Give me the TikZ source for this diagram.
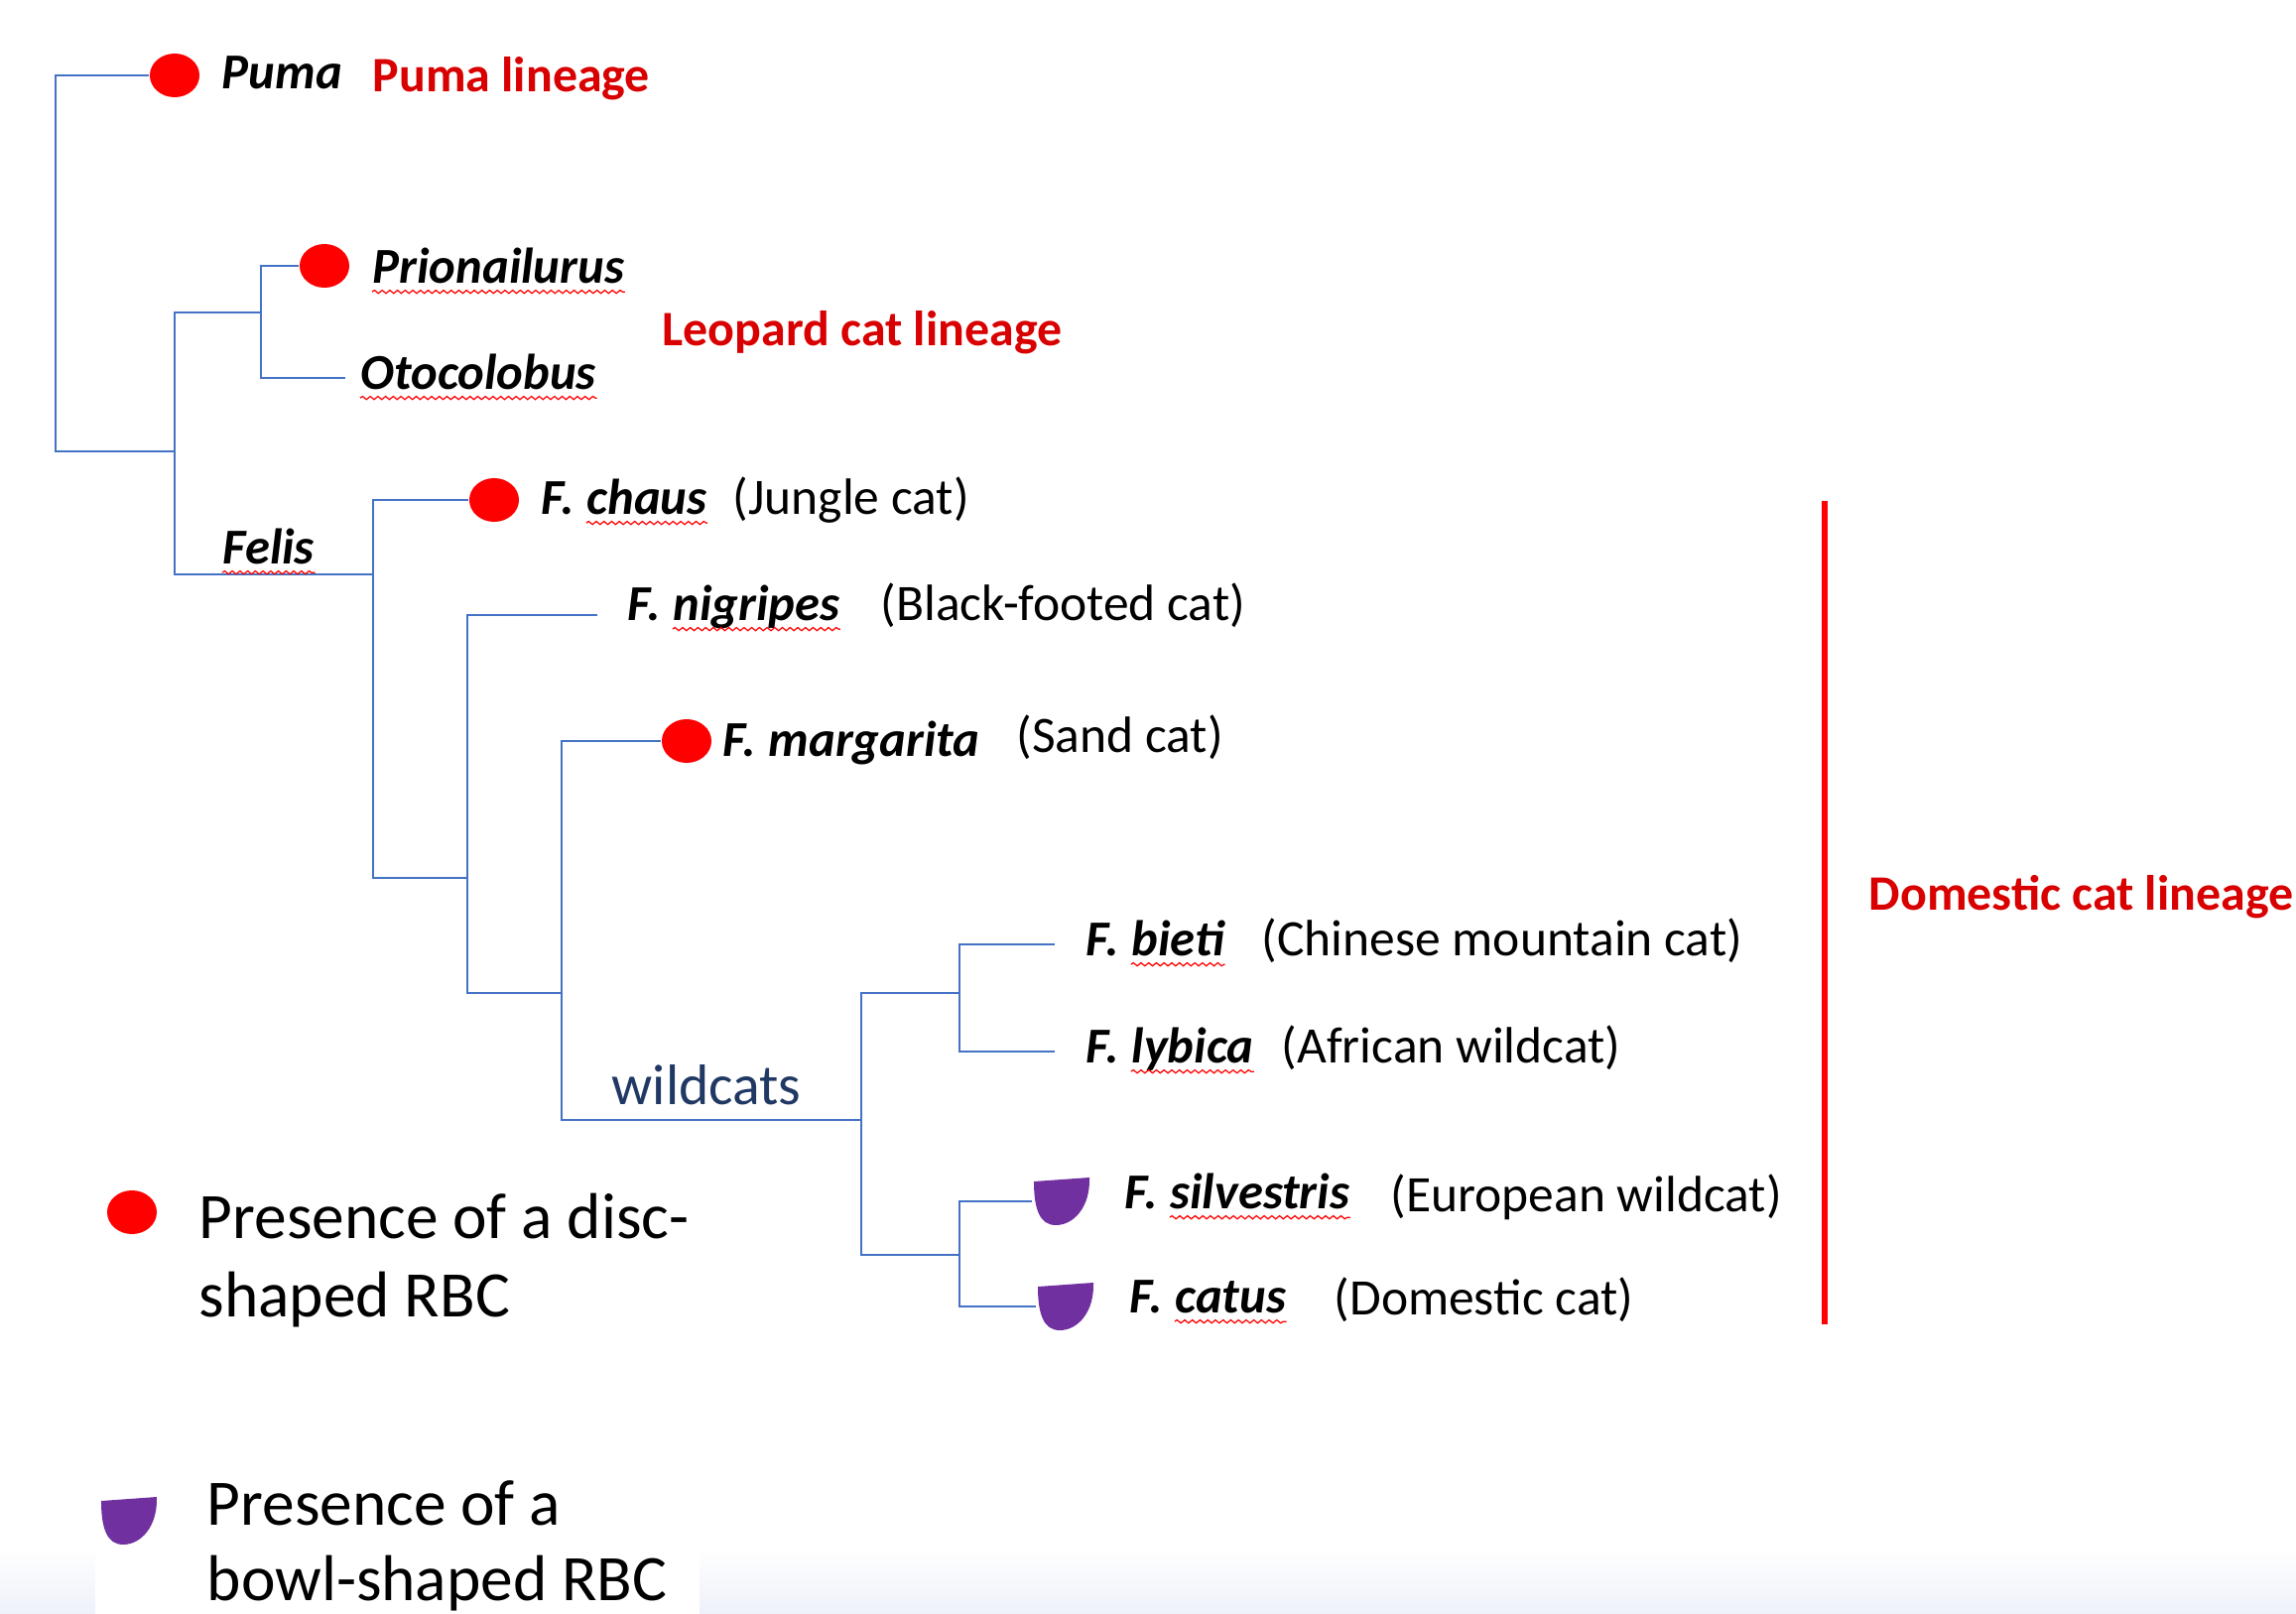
\documentclass[tikz,border=0pt]{standalone}
\usepackage{fontspec}
\setmainfont{Carlito}
\usetikzlibrary{positioning,shapes.geometric,decorations.pathmorphing,shadings}
\definecolor{treeblue}{HTML}{4472C4}
\definecolor{discred}{HTML}{FF0000}
\definecolor{lineagered}{HTML}{D80000}
\definecolor{bowlpurple}{HTML}{7030A0}
\definecolor{wildblue}{HTML}{203864}
\definecolor{stripblue}{HTML}{EEF1FA}
\newcommand\labfont{\fontsize{14.4}{17}\selectfont}
\newcommand\comfont{\fontsize{14.65}{17}\selectfont}
\newcommand\keyfont{\fontsize{18.6}{22}\selectfont}
\tikzset{
  sp/.style={font=\labfont\bfseries\itshape, inner sep=0, anchor=base west},
  cn/.style={font=\comfont, inner sep=0, anchor=base west},
  lin/.style={font=\fontsize{14.2}{17}\selectfont\bfseries, text=lineagered, inner sep=0, anchor=base west},
  keytext/.style={font=\keyfont, inner sep=0, anchor=base west},
  disc/.style={ellipse, fill=discred, minimum width=0.50cm, minimum height=0.44cm, inner sep=0},
  bowl/.style={inner sep=0, minimum width=0.58cm, minimum height=0.52cm,
    path picture={\fill[bowlpurple, shift={(path picture bounding box.center)}]
      (-28,-20) -- (28,-24) .. controls (29,6) and (12,24) .. (-6,24)
      .. controls (-22,24) and (-28,8) .. cycle;}},
  branch/.style={draw=treeblue, line width=0.7pt},
  squig/.style={draw=red, line width=0.35pt, decorate,
    decoration={snake, amplitude=0.45pt, segment length=2.2pt}},
  domline/.style={draw=discred, line width=1.7pt}
}
\begin{document}
\begin{tikzpicture}[x=0.01cm, y=-0.01cm]
  \useasboundingbox (0,0) rectangle (2314,1627);
  \clip (0,0) rectangle (2314,1627);
  \shade[top color=white, bottom color=stripblue] (0,1560) rectangle (2314,1627);
  \fill[white] (96,1545) rectangle (705,1627);

  % junctions of the tree
  \coordinate (root) at (56,260);
  \coordinate (felid) at (176,455);
  \coordinate (leo) at (263,315);
  \coordinate (jfelis) at (376,579);
  \coordinate (j2) at (471,885);
  \coordinate (j3) at (566,1001);
  \coordinate (jwild) at (868,1129);
  \coordinate (jwa) at (967,1001);
  \coordinate (jwb) at (967,1265);
  \coordinate (endoto) at (348,381);
  \coordinate (endnigri) at (602,620);
  \coordinate (endbieti) at (1063,952);
  \coordinate (endlybica) at (1063,1060);

  % RBC markers
  \node[disc] (pumadisc) at (176,76) {};
  \node[disc] (priodisc) at (327,268) {};
  \node[disc] (chausdisc) at (498,504) {};
  \node[disc] (margdisc) at (692,747) {};
  \node[bowl] (silvbowl) at (1070,1211) {};
  \node[bowl] (catusbowl) at (1074,1317) {};

  \begin{scope}[branch]
    \draw (root) |- (pumadisc.west);
    \draw (root) |- (felid);
    \draw (felid) |- (leo);
    \draw (felid) |- (jfelis);
    \draw (leo) |- (priodisc.west);
    \draw (leo) |- (endoto);
    \draw (jfelis) |- (chausdisc.west);
    \draw (jfelis) |- (j2);
    \draw (j2) |- (endnigri);
    \draw (j2) |- (j3);
    \draw (j3) |- (margdisc.west);
    \draw (j3) |- (jwild);
    \draw (jwild) |- (jwa);
    \draw (jwild) |- (jwb);
    \draw (jwa) |- (endbieti);
    \draw (jwa) |- (endlybica);
    \draw (jwb) |- (silvbowl.west);
    \draw (jwb) |- (catusbowl.west);
  \end{scope}

  % names
  \node[sp] (puma) at (223,90) {Puma};
  \node[lin] (pumalin) at (375,92) {Puma lineage};
  \node[sp] (prio) at (375,285) {Prionailurus};
  \node[lin] (leolin) at (667,348) {Leopard cat lineage};
  \node[sp] (oto) at (363,392) {Otocolobus};
  \node[sp] (felis) at (224,568) {Felis};
  \node[sp] (chausF) at (545,518) {F.};
  \node[sp, base right=3.2pt of chausF] (chaus) {chaus};
  \node[cn] (chausC) at (738,518) {(Jungle cat)};
  \node[sp] (nigriF) at (632,625) {F.};
  \node[sp, base right=3.2pt of nigriF] (nigri) {nigripes};
  \node[cn] (nigriC) at (887,625) {(Black-footed cat)};
  \node[sp] (margF) at (728,762) {F.};
  \node[sp, base right=3.2pt of margF] (marg) {margarita};
  \node[cn] (margC) at (1024,758) {(Sand cat)};
  \node[sp] (bietiF) at (1094,963) {F.};
  \node[sp, base right=3.2pt of bietiF] (bieti) {bieti};
  \node[cn] (bietiC) at (1271,963) {(Chinese mountain cat)};
  \node[sp] (lybicaF) at (1094,1071) {F.};
  \node[sp, base right=3.2pt of lybicaF] (lybica) {lybica};
  \node[cn] (lybicaC) at (1291,1071) {(African wildcat)};
  \node[sp] (silvF) at (1133,1218) {F.};
  \node[sp, base right=3.2pt of silvF] (silv) {silvestris};
  \node[cn] (silvC) at (1401,1221) {(European wildcat)};
  \node[sp] (catusF) at (1138,1323) {F.};
  \node[sp, base right=3.2pt of catusF] (catus) {catus};
  \node[cn] (catusC) at (1344,1325) {(Domestic cat)};
  \node[font=\fontsize{16.4}{20}\selectfont, text=wildblue, inner sep=0, anchor=base west] (wildlab) at (616,1113) {wildcats};

  \foreach \n in {prio,oto,felis,chaus,nigri,bieti,lybica,silv,catus}
    \draw[squig] ([yshift=-2.6pt]\n.base west) -- ([yshift=-2.6pt]\n.base east);

  % domestic cat lineage bar
  \coordinate (domtop) at (1839,505);
  \coordinate (dombot) at (1839,1335);
  \draw[domline] (domtop) -- (dombot);
  \node[lin] (domlin) at (1883,917) {Domestic cat lineage};

  % key
  \node[disc] (keydisc) at (133,1222) {};
  \node[keytext] (keydisc1) at (200,1248) {Presence of a disc-};
  \node[keytext] (keydisc2) at (200,1327) {shaped RBC};
  \node[bowl] (keybowl) at (130,1533) {};
  \node[keytext] (keybowl1) at (208,1537) {Presence of a};
  \node[keytext] (keybowl2) at (208,1613) {bowl-shaped RBC};
\end{tikzpicture}
\end{document}
